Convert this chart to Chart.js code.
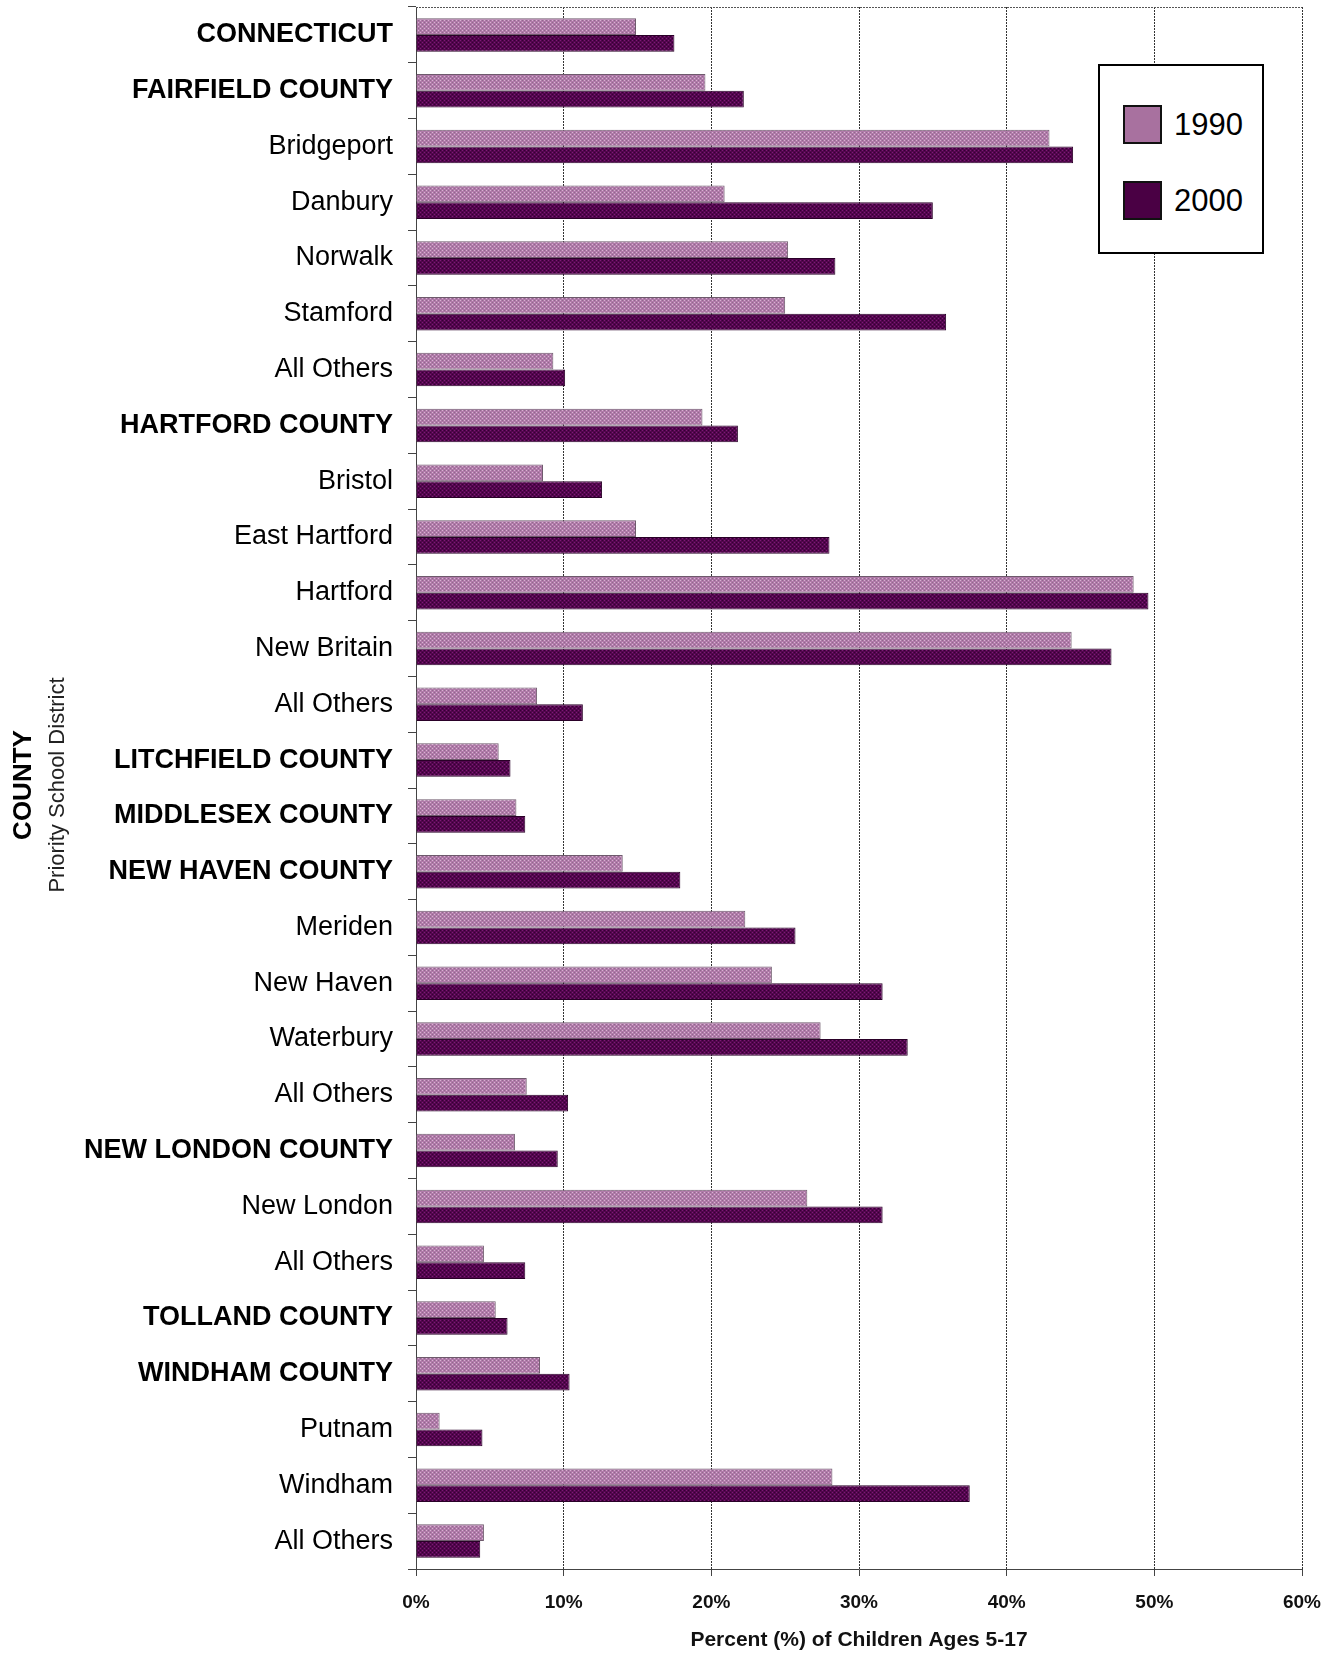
<!DOCTYPE html>
<html>
<head>
<meta charset="utf-8">
<script src="https://cdn.jsdelivr.net/npm/chart.js@4.4.1/dist/chart.umd.min.js"></script>
<style>
body { margin: 0; background: #fff; }
#wrap { position: relative; width: 1338px; height: 1653px; }
#legend {
    position: absolute; left: 1098px; top: 64px; width: 166px; height: 190px;
    border: 2px solid #000; background: #fff; box-sizing: border-box;
    font-family: "Liberation Sans", Arial, sans-serif; font-size: 31px; color: #000;
}
#legend .item { position: absolute; left: 23px; height: 40px; line-height: 40px; }
#legend .box { position: absolute; left: 0; top: 0; width: 35px; height: 35px; border: 2px solid #111; }
#legend .txt { position: absolute; left: 51px; top: 0; white-space: nowrap; }
</style>
</head>
<body>
<div id="wrap">
    <canvas id="chart"></canvas>
    <div id="legend"></div>
</div>
<script>
const districts = [
    "CONNECTICUT", "FAIRFIELD COUNTY", "Bridgeport", "Danbury", "Norwalk", "Stamford", "All Others",
    "HARTFORD COUNTY", "Bristol", "East Hartford", "Hartford", "New Britain", "All Others",
    "LITCHFIELD COUNTY", "MIDDLESEX COUNTY", "NEW HAVEN COUNTY", "Meriden", "New Haven", "Waterbury", "All Others",
    "NEW LONDON COUNTY", "New London", "All Others", "TOLLAND COUNTY", "WINDHAM COUNTY", "Putnam", "Windham", "All Others"
];
const pct1990 = [14.9, 19.6, 42.9, 20.9, 25.2, 25.0, 9.3, 19.4, 8.6, 14.9, 48.6, 44.4, 8.2,
    5.6, 6.8, 14.0, 22.3, 24.1, 27.4, 7.5, 6.7, 26.5, 4.6, 5.4, 8.4, 1.6, 28.2, 4.6];
const pct2000 = [17.5, 22.2, 44.5, 35.0, 28.4, 35.9, 10.1, 21.8, 12.6, 28.0, 49.6, 47.1, 11.3,
    6.4, 7.4, 17.9, 25.7, 31.6, 33.3, 10.3, 9.6, 31.6, 7.4, 6.2, 10.4, 4.5, 37.5, 4.35];
const seriesNames = ["1990", "2000"];
const xTicks = [0, 10, 20, 30, 40, 50, 60];
const xTitle = "Percent (%) of Children Ages 5-17";
const yTitleMain = "COUNTY";
const yTitleSub = "Priority School District";

const FONT = '"Liberation Sans", Arial, sans-serif';

// dithered fills like the old gif
function makePattern(base, light, dark) {
    const c = document.createElement("canvas");
    c.width = 4; c.height = 4;
    const g = c.getContext("2d");
    g.fillStyle = base;
    g.fillRect(0, 0, 4, 4);
    g.fillStyle = light;
    g.fillRect(0, 0, 1, 1); g.fillRect(2, 2, 1, 1);
    g.fillStyle = dark;
    g.fillRect(2, 0, 1, 1); g.fillRect(0, 2, 1, 1);
    return g.createPattern(c, "repeat");
}
const fill1990 = makePattern("#b07aa9", "#d9b2d2", "#8f6a8c");
const fill2000 = makePattern("#52064d", "#7d1a76", "#350033");
const swatch = ["#a8719f", "#4a0044"];

// y axis title: two lines, different fonts
const yTitlePlugin = {
    id: "yTitle",
    afterDraw(chart) {
        const ctx = chart.ctx;
        const a = chart.chartArea;
        const cy = (a.top + a.bottom) / 2 - 3;
        ctx.save();
        ctx.fillStyle = "#000";
        ctx.textAlign = "center";
        ctx.textBaseline = "middle";
        ctx.translate(24, cy);
        ctx.rotate(-Math.PI / 2);
        ctx.font = "bold 26px " + FONT;
        ctx.fillText(yTitleMain, 0, 0);
        ctx.restore();
        ctx.save();
        ctx.fillStyle = "#222";
        ctx.textAlign = "center";
        ctx.textBaseline = "middle";
        ctx.translate(58, cy);
        ctx.rotate(-Math.PI / 2);
        ctx.font = "22px " + FONT;
        ctx.fillText(yTitleSub, 0, 0);
        ctx.restore();
        // top border of the plot
        ctx.save();
        ctx.strokeStyle = "#555";
        ctx.lineWidth = 1;
        ctx.setLineDash([2, 1]);
        ctx.beginPath();
        ctx.moveTo(a.left, a.top + 0.5);
        ctx.lineTo(a.right, a.top + 0.5);
        ctx.stroke();
        ctx.restore();
    }
};

const chart = new Chart(document.getElementById("chart").getContext("2d"), {
    type: "bar",
    data: {
        labels: districts,
        datasets: [
            {
                label: seriesNames[0],
                data: pct1990,
                backgroundColor: fill1990,
                borderColor: "#6e5a6c",
                borderWidth: 1,
                barPercentage: 1,
                categoryPercentage: 0.6
            },
            {
                label: seriesNames[1],
                data: pct2000,
                backgroundColor: fill2000,
                borderColor: "#2a0028",
                borderWidth: 1,
                barPercentage: 1,
                categoryPercentage: 0.6
            }
        ]
    },
    options: {
        indexAxis: "y",
        responsive: true,
        maintainAspectRatio: false,
        animation: false,
        layout: { padding: { top: 7, right: 36, bottom: 0, left: 0 } },
        plugins: {
            legend: { display: false },
            tooltip: { enabled: false }
        },
        scales: {
            x: {
                min: 0,
                max: 60,
                afterBuildTicks: (scale) => { scale.ticks = xTicks.map(v => ({ value: v })); },
                afterFit: (scale) => { scale.height = 84; },
                ticks: {
                    callback: (v) => v + "%",
                    color: "#111",
                    font: { family: FONT, size: 19, weight: "bold" },
                    padding: 15,
                    maxRotation: 0
                },
                grid: {
                    color: "#333",
                    lineWidth: 1,
                    tickLength: 7,
                    tickColor: "#444",
                    tickBorderDash: []
                },
                border: { display: true, color: "#444", dash: [2, 1] },
                title: {
                    display: true,
                    text: xTitle,
                    color: "#111",
                    font: { family: FONT, size: 21, weight: "bold" },
                    padding: { top: 0, bottom: 0 }
                }
            },
            y: {
                afterFit: (scale) => {
                    scale.width = 416;
                    // labels sit mid-band, so no extra room above/below
                    scale.paddingTop = 0;
                    scale.paddingBottom = 0;
                },
                ticks: {
                    color: "#000",
                    padding: 15,
                    font: (ctx) => ({
                        family: FONT,
                        size: 27,
                        weight: districts[ctx.index] === districts[ctx.index].toUpperCase() ? "bold" : "normal"
                    })
                },
                grid: {
                    offset: true,
                    drawOnChartArea: false,
                    tickLength: 8,
                    color: "#444"
                },
                border: { display: true, color: "#444" }
            }
        }
    },
    plugins: [yTitlePlugin]
});

// legend box, built from the datasets
const legendDiv = document.getElementById("legend");
chart.data.datasets.forEach((ds, i) => {
    const item = document.createElement("div");
    item.className = "item";
    item.style.top = (39 + i * 76) + "px";
    item.innerHTML = '<span class="box" style="background:' + swatch[i] + '"></span><span class="txt">' + ds.label + '</span>';
    legendDiv.appendChild(item);
});
</script>
</body>
</html>
